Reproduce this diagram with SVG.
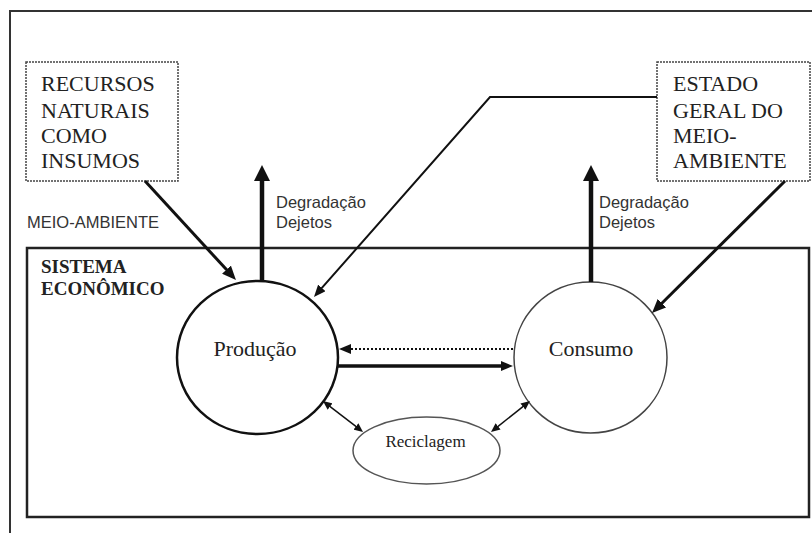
<svg xmlns="http://www.w3.org/2000/svg" width="812" height="533" viewBox="0 0 812 533">
<style>
.serif{font-family:"Liberation Serif","Times New Roman",serif;fill:#222}
.sans{font-family:"Liberation Sans",Arial,sans-serif;fill:#333;font-size:16.5px}
.big{font-size:22px}
.dotbox{fill:#fff;stroke:#444;stroke-width:1.5;stroke-dasharray:2,1}
.ln{fill:none;stroke:#111}
</style>
<defs>
<marker id="mBig" markerUnits="userSpaceOnUse" markerWidth="16" markerHeight="16" refX="4" refY="8" orient="auto"><path d="M0,0 L16,8 L0,16 z" fill="#111"/></marker>
<marker id="mMed" markerUnits="userSpaceOnUse" markerWidth="14" markerHeight="12" refX="4" refY="6" orient="auto"><path d="M0,0 L14,6 L0,12 z" fill="#111"/></marker>
<marker id="mThin" markerUnits="userSpaceOnUse" markerWidth="12" markerHeight="10" refX="3" refY="5" orient="auto"><path d="M0,0 L12,5 L0,10 z" fill="#111"/></marker>
<marker id="mSmall" markerUnits="userSpaceOnUse" markerWidth="12" markerHeight="10" refX="3" refY="5" orient="auto"><path d="M0,0 L12,5 L0,10 z" fill="#111"/></marker>
<marker id="mTiny" markerUnits="userSpaceOnUse" markerWidth="9" markerHeight="8" refX="2" refY="4" orient="auto-start-reverse"><path d="M0,0 L9,4 L0,8 z" fill="#111"/></marker>
</defs>
<rect width="812" height="533" fill="#fff"/>
<g id="frame">
<path d="M10,533 L10,11 L812,11" fill="none" stroke="#333" stroke-width="2"/>
</g>
<g id="sistema">
<rect x="27" y="248" width="782" height="269" fill="none" stroke="#222" stroke-width="2.5"/>
<text class="serif" x="41" y="273" font-size="19" font-weight="bold">SISTEMA</text>
<text class="serif" x="41" y="295" font-size="19" font-weight="bold">ECONÔMICO</text>
</g>
<g id="meio-ambiente">
<text class="sans" x="27" y="228" font-size="16.5">MEIO-AMBIENTE</text>
</g>
<g id="recursos">
<rect class="dotbox" x="26" y="62" width="152" height="119"/>
<text class="serif big" x="41" y="91">RECURSOS</text>
<text class="serif big" x="41" y="118">NATURAIS</text>
<text class="serif big" x="41" y="143">COMO</text>
<text class="serif big" x="41" y="168">INSUMOS</text>
</g>
<g id="estado">
<rect class="dotbox" x="657" y="62" width="153" height="119"/>
<text class="serif big" x="673" y="91">ESTADO</text>
<text class="serif big" x="673" y="118">GERAL DO</text>
<text class="serif big" x="673" y="143">MEIO-</text>
<text class="serif big" x="673" y="168">AMBIENTE</text>
</g>
<g id="producao">
<ellipse cx="257.5" cy="357.5" rx="80.5" ry="76.5" fill="#fff" stroke="#111" stroke-width="2.5"/>
<text class="serif big" x="255" y="356" text-anchor="middle">Produção</text>
</g>
<g id="consumo">
<ellipse cx="590.5" cy="357.5" rx="76.5" ry="75.5" fill="#fff" stroke="#444" stroke-width="1.5"/>
<text class="serif big" x="591" y="356" text-anchor="middle">Consumo</text>
</g>
<g id="reciclagem">
<ellipse cx="426.5" cy="450.5" rx="73.5" ry="33.5" fill="#fff" stroke="#555" stroke-width="1.5"/>
<text class="serif" x="425.5" y="447" font-size="17" text-anchor="middle">Reciclagem</text>
</g>
<g id="degradacao-labels">
<text class="sans" x="276" y="208">Degradação</text>
<text class="sans" x="276" y="228">Dejetos</text>
<text class="sans" x="599" y="208">Degradação</text>
<text class="sans" x="599" y="228">Dejetos</text>
</g>
<g id="connectors">
<line class="ln" x1="262" y1="281" x2="262" y2="177" stroke-width="4.5" marker-end="url(#mBig)"/>
<line class="ln" x1="591" y1="282" x2="591" y2="177" stroke-width="4.5" marker-end="url(#mBig)"/>
<line class="ln" x1="145" y1="181" x2="229.2" y2="272.6" stroke-width="3" marker-end="url(#mMed)"/>
<polyline class="ln" points="657,97 490,97 319.9,290.2" stroke-width="2" marker-end="url(#mThin)"/>
<line class="ln" x1="785" y1="181" x2="659.1" y2="306" stroke-width="3" marker-end="url(#mMed)"/>
<line class="ln" x1="513" y1="349" x2="348" y2="349" stroke-width="2" stroke-dasharray="2,2" marker-end="url(#mSmall)"/>
<line class="ln" x1="338" y1="366" x2="504" y2="366" stroke-width="3.5" marker-end="url(#mSmall)"/>
<line class="ln" x1="328.5" y1="405.3" x2="357.5" y2="427.7" stroke-width="1.5" marker-start="url(#mTiny)" marker-end="url(#mTiny)"/>
<line class="ln" x1="524.5" y1="405.4" x2="496.5" y2="427.6" stroke-width="1.5" marker-start="url(#mTiny)" marker-end="url(#mTiny)"/>
</g>
</svg>
